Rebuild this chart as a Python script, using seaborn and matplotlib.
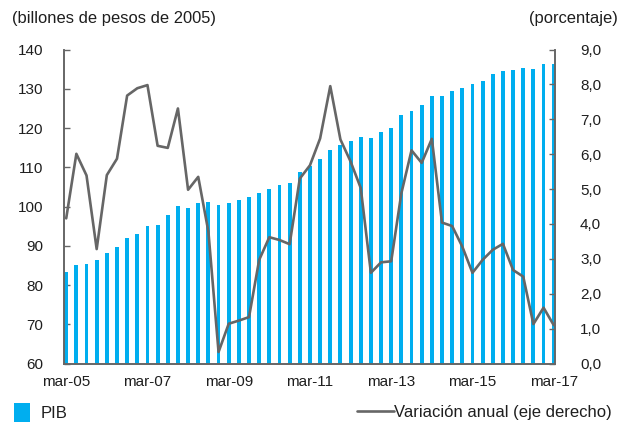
import matplotlib
matplotlib.use('Agg')
import matplotlib.pyplot as plt
import numpy as np
import pandas as pd
import seaborn as sns
from matplotlib.lines import Line2D
from matplotlib.patches import Patch
from matplotlib.ticker import FuncFormatter, FixedLocator

# PIB trimestral (billones de pesos de 2005), mar-05 a mar-17
pib = [83.3, 85.0, 85.4, 86.4, 88.1, 89.7, 92.0, 93.0, 95.1, 95.4,
       97.8, 100.1, 99.7, 100.8, 101.1, 100.4, 100.8, 101.7, 102.4, 103.4,
       104.4, 105.4, 106.0, 108.8, 110.2, 112.1, 114.5, 115.7, 116.8, 117.8,
       117.4, 119.1, 120.1, 123.4, 124.4, 125.8, 128.1, 128.1, 129.4, 130.1,
       131.1, 132.1, 133.8, 134.5, 134.8, 135.4, 135.1, 136.4, 136.2]

# Variación anual (%)
variacion = [4.16, 6.01, 5.39, 3.28, 5.40, 5.87, 7.68, 7.89, 7.98, 6.24,
             6.18, 7.31, 4.98, 5.35, 3.78, 0.33, 1.14, 1.23, 1.33, 2.97,
             3.62, 3.54, 3.42, 5.30, 5.68, 6.45, 7.95, 6.42, 5.79, 5.03,
             2.60, 2.90, 2.93, 4.88, 6.11, 5.75, 6.44, 4.04, 3.94, 3.35,
             2.60, 2.97, 3.26, 3.43, 2.68, 2.49, 1.13, 1.60, 1.10]

tick_labels = ['mar-05', 'mar-07', 'mar-09', 'mar-11', 'mar-13', 'mar-15', 'mar-17']

df = pd.DataFrame({'t': np.arange(len(pib)), 'pib': pib, 'var': variacion})

sns.set_theme(style='white')
plt.rcParams['font.family'] = ['Liberation Sans', 'DejaVu Sans']

blue = '#00AEEF'
gray = '#666666'
txt = '#1e1e1e'

fig = plt.figure(figsize=(6.29, 4.25), dpi=100)
ax = fig.add_axes([0.1017, 0.1447, 0.7807, 0.7388])

sns.barplot(data=df, x='t', y='pib', native_scale=True, color=blue,
            width=0.38, saturation=1, linewidth=0, ax=ax)
ax.set_xlim(-0.22, 48.13)
ax.set_ylim(60, 140)
ax.set_yticks(range(60, 141, 10))
ax.set_xlabel('')
ax.set_ylabel('')

ax2 = ax.twinx()
sns.lineplot(data=df, x='t', y='var', color=gray, lw=1.9, ax=ax2)
ax2.set_ylim(0, 9)
ax2.set_yticks(np.arange(0, 9.01, 1))
ax2.yaxis.set_major_formatter(FuncFormatter(lambda v, p: f'{v:.1f}'.replace('.', ',')))
ax2.set_xlabel('')
ax2.set_ylabel('')

# etiquetas centradas en la barra, marcas entre categorías
ax.xaxis.set_major_locator(FixedLocator(list(range(0, 49, 8))))
ax.set_xticklabels(tick_labels)
ax.xaxis.set_minor_locator(FixedLocator([k - 0.22 for k in range(0, 49, 8)]))
ax.tick_params(axis='x', which='major', length=0, pad=8, labelsize=11, colors=txt)
ax.tick_params(axis='x', which='minor', length=4, direction='in', width=1, color='#666666')
ax.tick_params(axis='y', length=4, direction='in', width=1, color='#666666',
               labelsize=11, labelcolor=txt, pad=15)
ax2.tick_params(axis='y', length=4, direction='in', width=1, color='#666666',
                labelsize=11, labelcolor=txt, pad=18)

for a in (ax, ax2):
    a.spines['top'].set_visible(False)
    for s in ('left', 'right', 'bottom'):
        a.spines[s].set_color('#666666')
        a.spines[s].set_linewidth(1.2)

fig.text(0.019, 0.957, '(billones de pesos de 2005)', fontsize=11.9, color=txt, va='center')
fig.text(0.982, 0.957, '(porcentaje)', fontsize=11.9, color=txt, va='center', ha='right')

h1 = [Patch(facecolor=blue, edgecolor='none')]
fig.legend(h1, ['PIB'], loc='center left', bbox_to_anchor=(-0.001, 0.03), frameon=False,
           fontsize=12, handlelength=0.95, handleheight=1.35, handletextpad=0.6,
           labelcolor=txt)
h2 = [Line2D([0], [0], color=gray, lw=1.9)]
fig.legend(h2, ['Variación anual (eje derecho)'], loc='center right',
           bbox_to_anchor=(0.997, 0.03), frameon=False, fontsize=12,
           handlelength=2.2, handletextpad=0.05, labelcolor=txt)

fig.savefig('out.png', dpi=100)
